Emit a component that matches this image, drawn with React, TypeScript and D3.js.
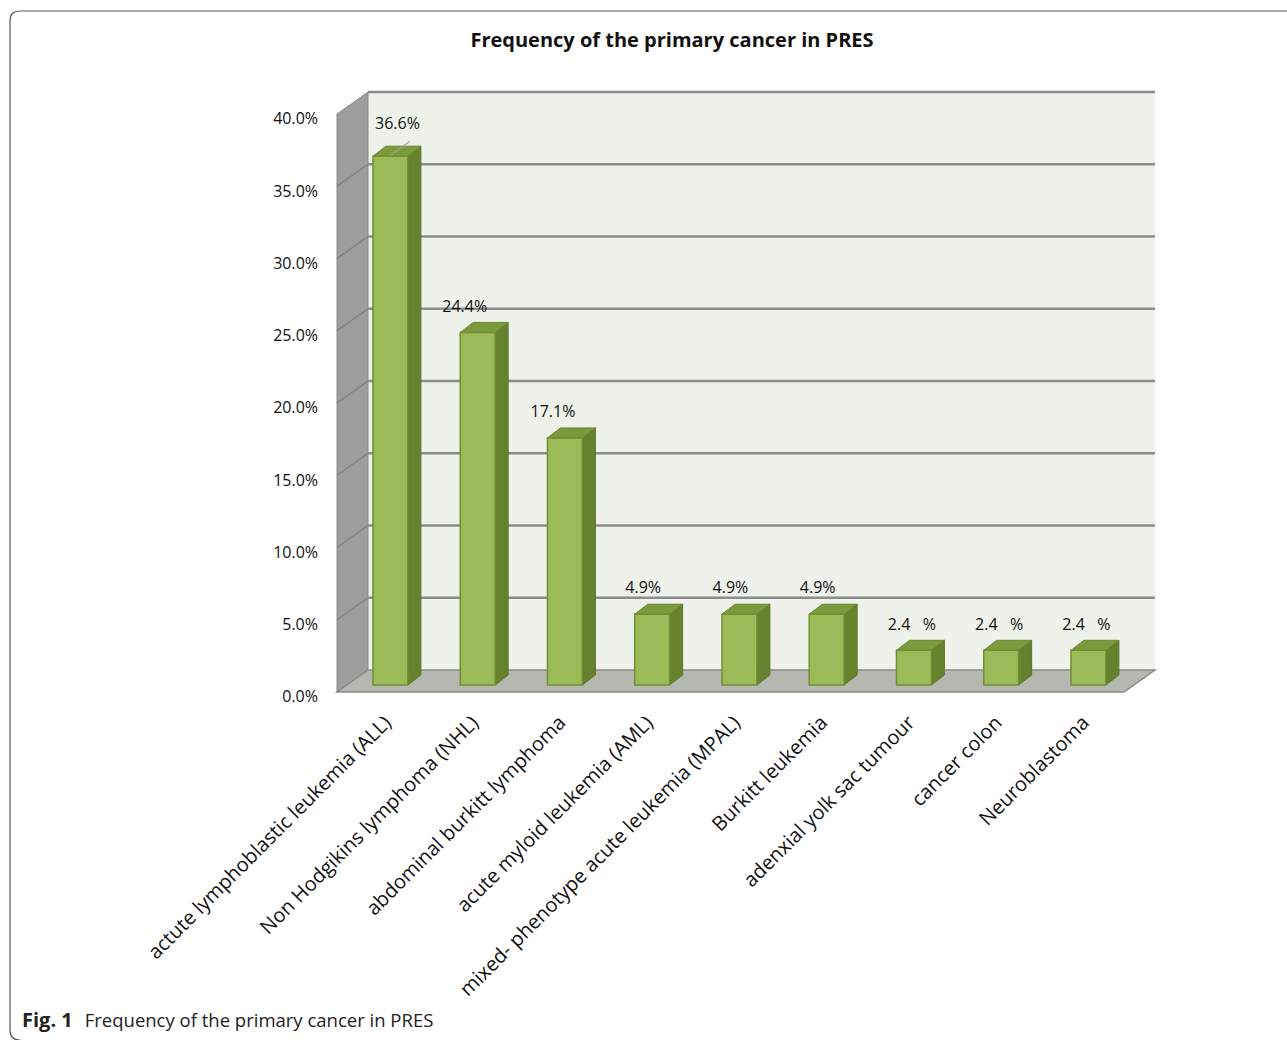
import React from "react";
import * as d3 from "d3";

const categories = [
  "actute lymphoblastic leukemia (ALL)",
  "Non Hodgikins lymphoma (NHL)",
  "abdominal burkitt lymphoma",
  "acute myloid leukemia (AML)",
  "mixed- phenotype acute leukemia (MPAL)",
  "Burkitt leukemia",
  "adenxial yolk sac tumour",
  "cancer colon",
  "Neuroblastoma",
];
const values = [36.6, 24.4, 17.1, 4.9, 4.9, 4.9, 2.4, 2.4, 2.4];
const valueLabels = ["36.6%", "24.4%", "17.1%", "4.9%", "4.9%", "4.9%", "2.4   %", "2.4   %", "2.4   %"];
const labelDx = [7, -13, -12, -9, -9, -9, -2, -2, -2];
const yTicks = [0, 5, 10, 15, 20, 25, 30, 35, 40];

const title = "Frequency of the primary cancer in PRES";
const captionBold = "Fig. 1";
const captionText = "Frequency of the primary cancer in PRES";

const FONT = "'Open Sans', sans-serif";

export default function App() {
  const W = 1287, H = 1040;
  // back wall
  const backL = 368, backR = 1155;
  const yBack = d3.scaleLinear().domain([0, 40]).range([670, 92]);
  const yFront = d3.scaleLinear().domain([0, 40]).range([692, 114]);
  const yBar = d3.scaleLinear().domain([0, 40]).range([685, 107]);
  const DX = -31, DY = 22; // wall depth
  const bdx = 13, bdy = -10; // bar depth

  const x = d3.scaleBand<string>()
    .domain(categories)
    .range([346.8, 346.8 + 9 * 87.25])
    .paddingInner(0.6)
    .paddingOuter(0.3);
  const bw = x.bandwidth();

  const y0b = yBack(0);
  const floorPts = [
    [backL, y0b], [backR, y0b], [backR + DX, y0b + DY], [backL + DX, y0b + DY],
  ];
  const sidePts = [
    [backL + DX, yBack(40) + DY], [backL, yBack(40)], [backL, y0b], [backL + DX, y0b + DY],
  ];

  return (
    <svg width={W} height={H} style={{ position: "absolute", left: 0, top: 0, background: "#fff" }}>
      {/* frame */}
      <path d={`M ${W} 11 H 20 Q 10 11 10 21 V 1030 Q 10 1040 20 1040`} fill="none" stroke="#555" strokeWidth={1.2} />
      <text x={672} y={47} textAnchor="middle" fontFamily={FONT} fontWeight={700} fontSize={20} fill="#111">{title}</text>

      {/* back wall */}
      <rect x={backL} y={yBack(40)} width={backR - backL} height={y0b - yBack(40)} fill="#eef2ea" />
      {/* side wall */}
      <polygon points={sidePts.map(p => p.join(",")).join(" ")} fill="#9d9e99" stroke="#8a8a87" strokeWidth={1} />
      {/* floor */}
      <polygon points={floorPts.map(p => p.join(",")).join(" ")} fill="#b5b7b0" stroke="#8a8a87" strokeWidth={1.5} />

      {/* gridlines */}
      {yTicks.map(t => (
        <g key={t}>
          {t > 0 && <line x1={backL} x2={backR} y1={yBack(t)} y2={yBack(t)} stroke="#8c8c8c" strokeWidth={2.5} />}
          {t > 0 && t < 40 && <line x1={backL} x2={backL + DX} y1={yBack(t)} y2={yBack(t) + DY} stroke="#838480" strokeWidth={1.5} />}
        </g>
      ))}

      {/* y labels */}
      {yTicks.map(t => (
        <text key={t} x={318} y={yFront(t) + 6} textAnchor="end" dominantBaseline="middle"
          fontFamily={FONT} fontSize={16} fill="#111">{t.toFixed(1) + "%"}</text>
      ))}

      {/* bars */}
      {categories.map((c, i) => {
        const x0 = x(c)!;
        const yt = yBar(values[i]);
        const yb = yBar(0);
        const front = `M${x0},${yt} H${x0 + bw} V${yb} H${x0} Z`;
        const side = `M${x0 + bw},${yb} V${yt} L${x0 + bw + bdx},${yt + bdy} V${yb + bdy} Z`;
        const top = `M${x0},${yt} H${x0 + bw} L${x0 + bw + bdx},${yt + bdy} H${x0 + bdx} Z`;
        const cx = x0 + bw / 2;
        const moved = i === 0;
        const ly = moved ? yt - 31 : yt + bdy - 15;
        return (
          <g key={c}>
            <path d={side} fill="#66822f" stroke="#5c7529" strokeWidth={1} />
            <path d={top} fill="#7a9a3c" stroke="#6a8734" strokeWidth={1} />
            <path d={front} fill="#9bbb59" stroke="#718f33" strokeWidth={1.5} />
            {moved && <line x1={x0 + 18} y1={yt - 1} x2={x0 + 37} y2={yt - 15} stroke="#a0a0a0" strokeWidth={1.2} />}
            <text x={cx + labelDx[i]} y={ly} textAnchor="middle" dominantBaseline="middle"
              fontFamily={FONT} fontSize={16} fill="#111" style={{ whiteSpace: "pre" }}>{valueLabels[i]}</text>
            <text transform={`translate(${cx + 2},${724}) rotate(-45)`} textAnchor="end"
              fontFamily={FONT} fontSize={20} fill="#111">{c}</text>
          </g>
        );
      })}

      {/* caption */}
      <text x={22} y={1027} fontFamily={FONT} fontSize={18.5} fill="#222">
        <tspan fontWeight={700} fontSize={20}>{captionBold}</tspan>
        <tspan dx={12}>{captionText}</tspan>
      </text>
    </svg>
  );
}
